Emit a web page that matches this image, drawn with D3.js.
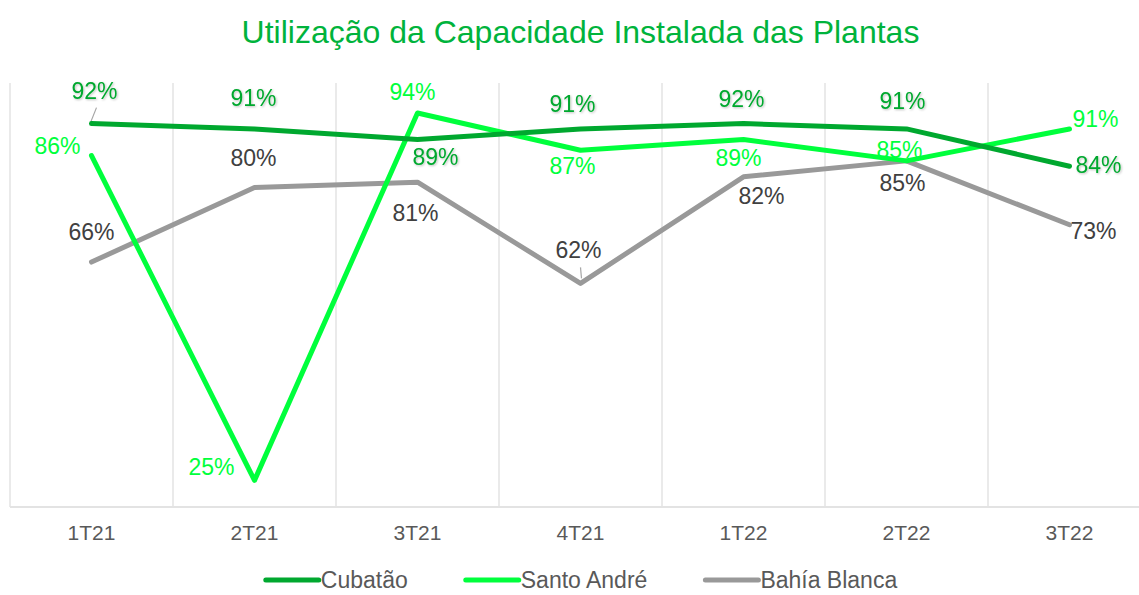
<!DOCTYPE html>
<html>
<head>
<meta charset="utf-8">
<script src="https://cdn.jsdelivr.net/npm/d3@7"></script>
<style>
  body { margin: 0; background: #fff; }
  svg { display: block; font-family: "Liberation Sans", Arial, sans-serif; }
</style>
</head>
<body>
<svg id="chart" width="1139" height="595"></svg>
<script>
// data
const quarters = ["1T21", "2T21", "3T21", "4T21", "1T22", "2T22", "3T22"];
const cubatao = [92, 91, 89, 91, 92, 91, 84];
const santoAndre = [86, 25, 94, 87, 89, 85, 91];
const bahiaBlanca = [66, 80, 81, 62, 82, 85, 73];
const seriesNames = ["Cubatão", "Santo André", "Bahía Blanca"];

// label placement (dx, dy from point, anchor)
const labelPos = [
  [[3, -33, "middle"], [-1, -31, "middle"], [18, 17, "middle"], [-8, -25, "middle"], [-2, -25, "middle"], [-4, -28, "middle"], [6, -1, "start"]],
  [[-11, -10, "end"], [-20, -13, "end"], [-5, -21, "middle"], [-8, 16, "middle"], [-5, 18, "middle"], [-7, -11, "middle"], [3, -10, "start"]],
  [[0, -30, "middle"], [-1, -30, "middle"], [-2, 31, "middle"], [-2, -33, "middle"], [18, 19, "middle"], [-4, 22, "middle"], [1, 6, "start"]]
];

const lineColors = ["#00a82f", "#00ff3c", "#999999"];
const textColors = ["#00a82f", "#00ff3c", "#404040"];

const svg = d3.select("#chart");
const margin = { left: 10, right: 1151, top: 81, bottom: 507 };

const x = d3.scaleBand().domain(quarters).range([margin.left, margin.right]).paddingInner(0).paddingOuter(0);
const y = d3.scaleLinear().domain([20, 100]).range([margin.bottom, margin.top]);
const cx = d => x(d) + x.bandwidth() / 2;

// title
svg.append("text")
  .attr("x", (margin.left + margin.right) / 2)
  .attr("y", 43)
  .attr("text-anchor", "middle")
  .attr("fill", "#00b33c")
  .style("font-size", "32px")
  .text("Utilização da Capacidade Instalada das Plantas");

// vertical gridlines at band edges
const edges = quarters.map(q => x(q)).concat([margin.right]);
svg.append("g").selectAll("line")
  .data(edges)
  .join("line")
  .attr("x1", d => d).attr("x2", d => d)
  .attr("y1", 83).attr("y2", margin.bottom)
  .attr("stroke", "#e3e3e3")
  .attr("stroke-width", 1.5);

// baseline
svg.append("line")
  .attr("x1", margin.left).attr("x2", margin.right)
  .attr("y1", margin.bottom).attr("y2", margin.bottom)
  .attr("stroke", "#e3e3e3")
  .attr("stroke-width", 2);

// x axis labels
const xAxis = svg.append("g")
  .attr("transform", `translate(0,${margin.bottom})`)
  .call(d3.axisBottom(x).tickSize(0).tickPadding(18));
xAxis.select(".domain").remove();
xAxis.selectAll("text")
  .attr("fill", "#595959")
  .style("font-size", "21px")
  .style("font-family", "Liberation Sans, Arial, sans-serif");

// leader lines
const leaders = [
  { s: 0, i: 0, from: [-1, -1], to: [5, -16] },
  { s: 2, i: 3, from: [0, -16], to: [1, -5] }
];
const allSeries = [cubatao, santoAndre, bahiaBlanca];

svg.append("g").selectAll("line")
  .data(leaders)
  .join("line")
  .attr("x1", d => cx(quarters[d.i]) + d.from[0])
  .attr("y1", d => y(allSeries[d.s][d.i]) + d.from[1])
  .attr("x2", d => cx(quarters[d.i]) + d.to[0])
  .attr("y2", d => y(allSeries[d.s][d.i]) + d.to[1])
  .attr("stroke", "#a6a6a6")
  .attr("stroke-width", 1.2);

// lines, Cubatão drawn last so it sits on top
const line = d3.line()
  .x((d, i) => cx(quarters[i]))
  .y(d => y(d));

[2, 1, 0].forEach(s => {
  svg.append("path")
    .datum(allSeries[s])
    .attr("d", line)
    .attr("fill", "none")
    .attr("stroke", lineColors[s])
    .attr("stroke-width", 5)
    .attr("stroke-linejoin", "round")
    .attr("stroke-linecap", "round");
});

// data labels
const defs = svg.append("defs");
defs.append("filter").attr("id", "shadow")
  .append("feDropShadow")
  .attr("dx", 1).attr("dy", 1).attr("stdDeviation", 0.8)
  .attr("flood-color", "#000").attr("flood-opacity", 0.25);

allSeries.forEach((vals, s) => {
  svg.append("g").selectAll("text")
    .data(vals)
    .join("text")
    .attr("x", (d, i) => cx(quarters[i]) + labelPos[s][i][0])
    .attr("y", (d, i) => y(d) + labelPos[s][i][1])
    .attr("dy", "0.35em")
    .attr("text-anchor", (d, i) => labelPos[s][i][2])
    .attr("fill", textColors[s])
    .attr("filter", s === 0 ? "url(#shadow)" : null)
    .style("font-size", "23px")
    .text(d => d + "%");
});

// legend
const LEGEND_Y = 580;
const legend = svg.append("g");
let lx = 0;
seriesNames.forEach((name, s) => {
  const g = legend.append("g");
  g.append("line")
    .attr("x1", 2).attr("x2", 55)
    .attr("y1", 0).attr("y2", 0)
    .attr("stroke", lineColors[s])
    .attr("stroke-width", 5)
    .attr("stroke-linecap", "round");
  const t = g.append("text")
    .attr("x", 57)
    .attr("dy", "0.35em")
    .attr("fill", "#595959")
    .style("font-size", "23px")
    .text(name);
  const w = 57 + t.node().getComputedTextLength();
  g.attr("transform", `translate(${lx},0)`);
  lx += w + 56;
});
const totalW = lx - 56;
legend.attr("transform", `translate(${(margin.left + margin.right) / 2 - totalW / 2},${LEGEND_Y})`);
</script>
</body>
</html>
